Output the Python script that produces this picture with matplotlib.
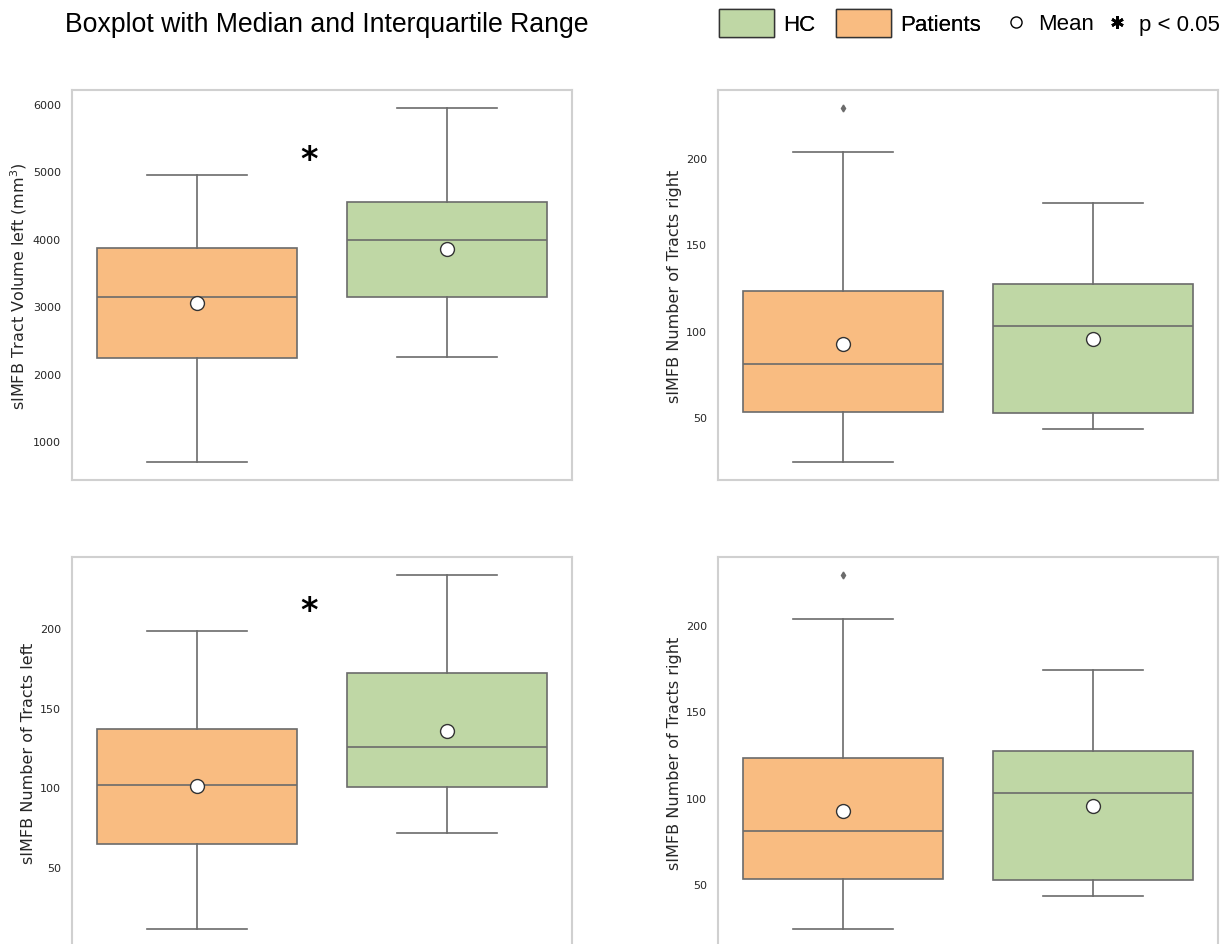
import matplotlib
matplotlib.use('Agg')
import matplotlib.pyplot as plt
from matplotlib.patches import Patch
from matplotlib.lines import Line2D
from matplotlib.ticker import MultipleLocator

plt.rcParams['font.family'] = ['DejaVu Sans']

# box summaries: whislo, q1, median, q3, whishi
vol_left_pat = [689, 2228, 3130, 3870, 4950]
vol_left_hc = [2243, 3130, 3988, 4550, 5941]
vol_left_means = [3041, 3855]
vol_left_fliers = [[], []]

tracts_left_pat = [11.3, 64.4, 101.3, 136.9, 198.1]
tracts_left_hc = [71.3, 100.0, 125.6, 171.9, 233.1]
tracts_left_means = [101.0, 135.6]
tracts_left_fliers = [[], []]

tracts_right_pat = [24.0, 53.0, 80.6, 122.7, 203.5]
tracts_right_hc = [43.1, 52.3, 102.6, 126.8, 173.5]
tracts_right_means = [92.1, 95.0]
tracts_right_fliers = [[228.8], []]

groups = ['Patients', 'HC']
colors = ['#F9BC81', '#BFD7A5']
star_x = 0.45
star_vol = 5180
star_tracts_left = 211

LINE = '#6b6b6b'


def make_stats(pat, hc, means, fliers):
    stats = []
    for name, vals, m, fl in zip(groups, [pat, hc], means, fliers):
        stats.append(dict(label=name, whislo=vals[0], q1=vals[1], med=vals[2],
                          q3=vals[3], whishi=vals[4], mean=m, fliers=fl))
    return stats


def draw_panel(ax, stats, ylabel, step, star=None):
    bp = ax.bxp(stats, positions=[0, 1], widths=0.8, capwidths=0.4,
                patch_artist=True, showmeans=True,
                boxprops=dict(edgecolor=LINE, linewidth=1.2),
                medianprops=dict(color=LINE, linewidth=1.2),
                whiskerprops=dict(color=LINE, linewidth=1.2),
                capprops=dict(color=LINE, linewidth=1.2),
                flierprops=dict(marker='d', markersize=3.5, markerfacecolor=LINE,
                                markeredgecolor=LINE),
                meanprops=dict(marker='o', markersize=10, markerfacecolor='white',
                               markeredgecolor='#333333', markeredgewidth=1))
    for box, c in zip(bp['boxes'], colors):
        box.set_facecolor(c)
    ax.set_xlim(-0.5, 1.5)
    ax.margins(y=0.05)
    ax.set_xticks([])
    ax.yaxis.set_major_locator(MultipleLocator(step))
    ax.tick_params(axis='y', labelsize=8, length=0, pad=8, colors='#262626')
    ax.set_ylabel(ylabel, fontsize=11.5, color='#262626', labelpad=3)
    for s in ax.spines.values():
        s.set_color('#d0d0d0')
        s.set_linewidth(1.5)
    ax.grid(False)
    if star is not None:
        ax.text(star_x, star, '*', ha='center', va='center', fontsize=24,
                fontweight='bold', color='black')


fig = plt.figure(figsize=(12.31, 9.45), dpi=100)
W, H = 1231, 945
ax_tl = fig.add_axes([72 / W, 1 - 481 / H, 500 / W, 390 / H])
ax_tr = fig.add_axes([718 / W, 1 - 481 / H, 500 / W, 390 / H])
ax_bl = fig.add_axes([72 / W, 1 - 948 / H, 500 / W, 390 / H])
ax_br = fig.add_axes([718 / W, 1 - 948 / H, 500 / W, 390 / H])

draw_panel(ax_tl, make_stats(vol_left_pat, vol_left_hc, vol_left_means, vol_left_fliers),
           'sIMFB Tract Volume left (mm$^3$)', 1000, star_vol)
draw_panel(ax_tr, make_stats(tracts_right_pat, tracts_right_hc, tracts_right_means, tracts_right_fliers),
           'sIMFB Number of Tracts right', 50)
draw_panel(ax_bl, make_stats(tracts_left_pat, tracts_left_hc, tracts_left_means, tracts_left_fliers),
           'sIMFB Number of Tracts left', 50, star_tracts_left)
draw_panel(ax_br, make_stats(tracts_right_pat, tracts_right_hc, tracts_right_means, tracts_right_fliers),
           'sIMFB Number of Tracts right', 50)

fig.text(65 / W, 1 - 25 / H, 'Boxplot with Median and Interquartile Range',
         ha='left', va='center', fontsize=19.2, family='Liberation Sans')

# legend: group patches, then mean marker and significance star
group_handles = [Patch(facecolor=colors[1], edgecolor='#333333', label='HC'),
                 Patch(facecolor=colors[0], edgecolor='#333333', label='Patients')]
leg1 = fig.legend(handles=group_handles, loc='center left',
                  bbox_to_anchor=(719 / W, 1 - 24 / H), ncol=2, frameon=False,
                  prop=dict(family='Liberation Sans', size=16),
                  handlelength=2.48, handleheight=1.53, handletextpad=0.4,
                  columnspacing=0.95, borderpad=0, borderaxespad=0)
extra_handles = [Line2D([], [], linestyle='none', marker='o', markersize=8,
                        markerfacecolor='white', markeredgecolor='black',
                        markeredgewidth=1, label='Mean'),
                 Line2D([], [], linestyle='none', marker=(6, 2, 0), markersize=9,
                        markeredgecolor='black', markeredgewidth=2, label='p < 0.05')]
leg2 = fig.legend(handles=extra_handles, loc='center left',
                  bbox_to_anchor=(1003 / W, 1 - 25 / H), ncol=2, frameon=False,
                  prop=dict(family='Liberation Sans', size=16),
                  handlelength=1.2, handletextpad=0.4,
                  columnspacing=0.4, borderpad=0, borderaxespad=0)
fig.add_artist(leg1)

fig.savefig('out.png', dpi=100)
